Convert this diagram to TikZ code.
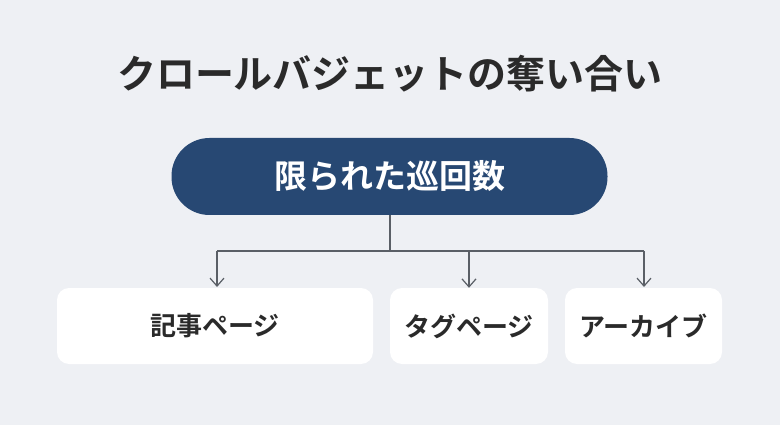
\documentclass[tikz,border=0pt]{standalone}
\usepackage{fontspec}
\newfontfamily\jpb{Noto Sans CJK JP Bold}
\usetikzlibrary{arrows.meta}
\definecolor{bgc}{HTML}{EEF0F4}
\definecolor{navy}{HTML}{274873}
\definecolor{txt}{HTML}{2A2A2A}
\definecolor{linec}{HTML}{5A5F66}
\tikzset{
  leaf/.style={fill=white, rounded corners=12pt, inner sep=0pt, font=\jpb\fontsize{26}{30}\selectfont, text=txt},
  conn/.style={draw=linec, line width=1.2pt},
  arr/.style={conn, -{Straight Barb[length=8pt,width=14pt,line width=1.2pt]}}
}
\begin{document}
\begin{tikzpicture}[x=1pt,y=-1pt]
\fill[bgc] (0,0) rectangle (780,425);
\useasboundingbox (0,0) rectangle (780,425);
\node[font=\jpb\fontsize{39}{44}\selectfont, text=txt] (title) at (390,74) {クロールバジェットの奪い合い};
\node[fill=navy, rounded corners=38pt, minimum width=436pt, minimum height=77pt, inner sep=0pt, text=white, font=\jpb\fontsize{33}{38}\selectfont] (top) at (389.5,176.5) {限られた巡回数};
\node[leaf, minimum width=316pt, minimum height=76pt] (a) at (215,326) {記事ページ};
\node[leaf, minimum width=158pt, minimum height=76pt] (b) at (469,326) {タグページ};
\node[leaf, minimum width=157pt, minimum height=76pt] (c) at (643.5,326) {アーカイブ};
\coordinate (j) at (390,251);
\draw[conn] (top.south -| j) -- (j);
\draw[conn] (j -| 217,0) -- (j -| 644,0);
\draw[arr] (217,251) -- (217,287);
\draw[arr] (469,251) -- (b.north);
\draw[arr] (644,251) -- (644,287);
\end{tikzpicture}
\end{document}
